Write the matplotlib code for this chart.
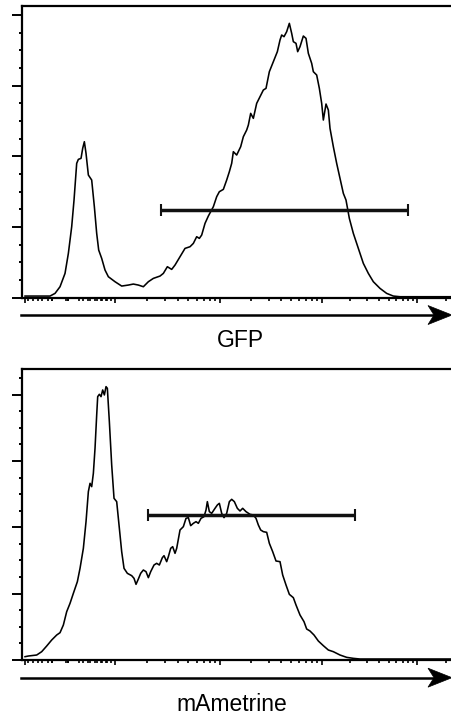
import numpy as np
from matplotlib import pyplot as plt
from matplotlib.ticker import FixedLocator
from matplotlib.patches import Polygon

# display channel (x) and event count (y)
gfp_x = [75, 150, 165, 180, 195, 205, 215, 222, 230, 235, 243, 248, 253, 258, 265, 275, 283, 290, 296,
         305, 315, 325, 345, 365, 385, 400, 415, 430, 445, 460, 480, 490, 502, 515, 525, 540, 555, 570,
         580, 590, 598, 605, 615, 625, 640, 650, 658, 670, 680, 688, 695, 700, 710, 722, 730, 740, 745,
         752, 760, 770, 780, 790, 798, 808, 820, 832, 840, 845, 852, 860, 868, 875, 880, 888, 893, 900,
         910, 918, 925, 935, 940, 950, 958, 965, 970, 978, 985, 990, 1000, 1010, 1020, 1030, 1038, 1048,
         1060, 1075, 1090, 1105, 1120, 1140, 1160, 1180, 1200, 1356]
gfp_y = [5, 5, 13, 33, 73, 133, 213, 293, 403, 415, 418, 448, 468, 433, 368, 353, 273, 193, 143,
         118, 83, 63, 48, 35, 38, 41, 38, 33, 48, 58, 65, 73, 93, 85, 98, 123, 148, 153,
         163, 183, 178, 188, 223, 245, 273, 303, 318, 325, 353, 378, 403, 438, 428, 453, 483, 503, 518,
         553, 538, 583, 603, 623, 628, 678, 708, 738, 773, 788, 783, 798, 823, 793, 768, 763, 738, 753,
         785, 778, 733, 703, 678, 668, 628, 583, 533, 581, 563, 508, 453, 403, 358, 313, 293, 238,
         193, 148, 103, 73, 48, 28, 13, 5, 3, 3]

mam_x = [75, 85, 110, 125, 140, 155, 170, 180, 190, 200, 210, 220, 232, 240, 250, 258, 265, 270, 275,
         280, 285, 290, 293, 298, 303, 308, 313, 318, 322, 328, 335, 342, 350, 358, 365, 372, 382, 395,
         402, 408, 415, 422, 430, 438, 445, 452, 462, 470, 478, 487, 492, 500, 505, 512, 518, 525, 530,
         540, 550, 558, 565, 572, 580, 588, 595, 603, 612, 618, 622, 628, 635, 645, 652, 658, 665, 672,
         680, 688, 695, 703, 712, 720, 728, 738, 750, 760, 768, 775, 782, 790, 800, 808, 818, 828, 840,
         848, 858, 868, 880, 888, 900, 912, 920, 930, 942, 955, 970, 985, 1000, 1020, 1040, 1060, 1080, 1356]
mam_y = [10, 12, 15, 25, 42, 60, 75, 82, 105, 145, 170, 200, 235, 275, 335, 415, 505, 530, 520,
         560, 635, 735, 790, 797, 790, 810, 795, 820, 815, 715, 585, 485, 475, 395, 325, 275, 260, 253,
         245, 227, 243, 260, 270, 265, 247, 265, 285, 290, 285, 307, 313, 295, 310, 335, 340, 320, 335,
         390, 400, 425, 427, 403, 410, 415, 410, 425, 430, 450, 475, 445, 440, 455, 465, 470, 440, 427,
         440, 475, 482, 475, 455, 447, 455, 445, 437, 435, 425, 405, 390, 385, 383, 350, 325, 297, 295,
         255, 225, 197, 187, 165, 135, 115, 93, 87, 75, 57, 43, 30, 25, 15, 8, 5, 3, 3]

# positive gates
gfp_gate = (483, 1223, 263)
mam_gate = (443, 1065, 434)

# axis decoration
x_major = [75, 345, 660, 965, 1252]
x_minor_low = [85, 100, 113, 125, 143, 155, 197, 203, 250, 270, 290, 305, 320]
labels = ["GFP", "mAmetrine"]

plt.rcParams['font.family'] = ['Liberation Sans', 'DejaVu Sans']

fig = plt.figure(figsize=(4.52, 7.15), dpi=100)
ax1 = fig.add_axes([0.048, 0.5836, 0.952, 0.408])
ax2 = fig.add_axes([0.048, 0.0769, 0.952, 0.4066])

# log-spaced minor ticks inside each decade
x_minor = list(x_minor_low)
widths = np.diff(x_major).tolist() + [287]
for x0, w in zip(x_major, widths):
  for k in range(2, 10):
    x_minor.append(x0 + np.log10(k) * w)


def style(ax, ymax, ystep):
  ax.set_xlim(65, 1356)
  ax.set_ylim(0, ymax)
  for s in ['left', 'bottom', 'top']:
    ax.spines[s].set_linewidth(1.6)
  ax.spines['right'].set_visible(False)
  ax.xaxis.set_major_locator(FixedLocator(x_major))
  ax.xaxis.set_minor_locator(FixedLocator([v for v in x_minor if v < 1356]))
  ax.yaxis.set_major_locator(FixedLocator(np.arange(0, ymax, ystep)))
  ax.yaxis.set_minor_locator(FixedLocator(np.arange(0, ymax, ystep / 4)))
  ax.tick_params(axis='y', which='major', length=7, width=1.4, direction='out')
  ax.tick_params(axis='y', which='minor', length=2.3, width=1.4, direction='out')
  ax.tick_params(axis='x', which='major', length=3.6, width=1.2, direction='out')
  ax.tick_params(axis='x', which='minor', length=2.0, width=1.2, direction='out')
  ax.tick_params(labelbottom=False, labelleft=False)


def gate(ax, g, cap):
  x0, x1, y = g
  ax.plot([x0, x1], [y, y], color='#111111', lw=2.5, solid_capstyle='butt')
  ax.vlines([x0, x1], y - cap, y + cap, color='#111111', lw=1.5)


ax1.plot(gfp_x, gfp_y, color='black', lw=1.15)
gate(ax1, gfp_gate, 18)
style(ax1, 875, 212)

ax2.plot(mam_x, mam_y, color='black', lw=1.15)
gate(ax2, mam_gate, 18)
style(ax2, 872, 199)

# axis arrows (stealth heads) and labels below each panel
hl, hw, notch = 24 / 452, 9.5 / 715, 18 / 452
for y_arrow, y_text, x_text, lab in [(0.5594, 0.5151, 0.531, labels[0]),
                                     (0.0522, 0.0056, 0.513, labels[1])]:
  fig.add_artist(plt.Line2D([0.0465, 1.0 - notch], [y_arrow, y_arrow],
                            transform=fig.transFigure, color='black', lw=1.8))
  fig.add_artist(Polygon([(1.0, y_arrow), (1.0 - hl, y_arrow + hw),
                          (1.0 - notch, y_arrow), (1.0 - hl, y_arrow - hw)],
                         closed=True, transform=fig.transFigure,
                         facecolor='black', edgecolor='black', lw=0.5))
  fig.text(x_text, y_text, lab, ha='center', va='baseline', fontsize=16.5)

plt.savefig("out.png", dpi=100)
